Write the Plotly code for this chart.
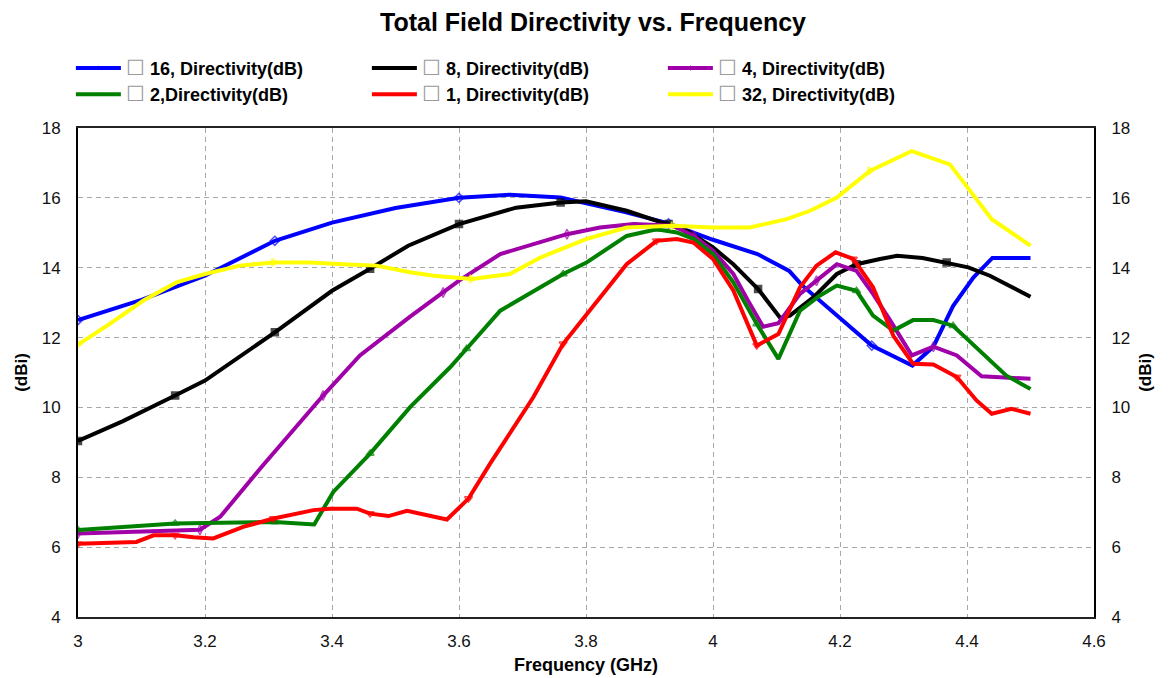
import plotly.graph_objects as go

# ---------------- data ----------------
f16 = [3.0, 3.05, 3.1, 3.2, 3.31, 3.4, 3.5, 3.6, 3.68, 3.76, 3.86, 3.93, 3.963, 4.0, 4.07,
       4.12, 4.14, 4.2, 4.25, 4.314, 4.347, 4.378, 4.41, 4.44, 4.5]
v16 = [12.5, 12.79, 13.08, 13.77, 14.77, 15.29, 15.71, 16.0, 16.09, 16.01, 15.6, 15.27, 15.06,
       14.8, 14.39, 13.91, 13.5, 12.55, 11.77, 11.2, 11.74, 12.9, 13.72, 14.28, 14.28]

f8 = [3.0, 3.07, 3.153, 3.2, 3.31, 3.4, 3.46, 3.52, 3.6, 3.69, 3.76, 3.8, 3.864, 3.93, 3.96,
      4.0, 4.032, 4.071, 4.106, 4.121, 4.158, 4.195, 4.226, 4.263, 4.29, 4.33, 4.368, 4.402,
      4.436, 4.473, 4.5]
v8 = [9.04, 9.6, 10.34, 10.77, 12.15, 13.34, 13.97, 14.63, 15.25, 15.72, 15.87, 15.9, 15.63,
      15.25, 15.05, 14.58, 14.1, 13.39, 12.56, 12.63, 13.15, 13.82, 14.1, 14.25, 14.34, 14.28,
      14.15, 14.01, 13.77, 13.44, 13.17]

f4 = [3.0, 3.1, 3.192, 3.224, 3.287, 3.386, 3.444, 3.523, 3.575, 3.6, 3.665, 3.77, 3.822,
      3.875, 3.937, 3.97, 4.0, 4.032, 4.055, 4.079, 4.103, 4.137, 4.163, 4.195, 4.226, 4.252,
      4.279, 4.313, 4.347, 4.384, 4.423, 4.462, 4.5]
v4 = [6.39, 6.45, 6.5, 6.87, 8.25, 10.34, 11.49, 12.6, 13.29, 13.63, 14.39, 14.96, 15.15,
      15.25, 15.2, 14.91, 14.49, 13.82, 13.06, 12.31, 12.41, 13.25, 13.63, 14.1, 13.91, 13.25,
      12.49, 11.49, 11.74, 11.49, 10.89, 10.85, 10.82]

f2 = [3.0, 3.153, 3.2, 3.26, 3.31, 3.36, 3.372, 3.402, 3.46, 3.523, 3.586, 3.612, 3.665,
      3.764, 3.8, 3.864, 3.911, 3.943, 3.97, 4.0, 4.032, 4.069, 4.103, 4.137, 4.168, 4.195,
      4.226, 4.252, 4.284, 4.315, 4.347, 4.378, 4.42, 4.462, 4.5]
v2 = [6.49, 6.68, 6.69, 6.71, 6.72, 6.66, 6.65, 7.58, 8.68, 10.01, 11.15, 11.68, 12.77,
      13.82, 14.14, 14.91, 15.1, 15.01, 14.82, 14.39, 13.58, 12.39, 11.39, 12.77, 13.2, 13.49,
      13.34, 12.63, 12.2, 12.5, 12.5, 12.34, 11.63, 10.91, 10.53]

f1 = [3.0, 3.092, 3.119, 3.153, 3.182, 3.213, 3.26, 3.308, 3.371, 3.397, 3.439, 3.46, 3.489,
      3.518, 3.581, 3.615, 3.649, 3.686, 3.717, 3.764, 3.8, 3.864, 3.911, 3.943, 3.969, 4.0,
      4.032, 4.069, 4.103, 4.137, 4.163, 4.193, 4.221, 4.252, 4.284, 4.315, 4.347, 4.384,
      4.415, 4.439, 4.47, 4.5]
v1 = [6.1, 6.15, 6.34, 6.34, 6.28, 6.25, 6.58, 6.82, 7.06, 7.1, 7.1, 6.96, 6.89, 7.04, 6.79,
      7.39, 8.39, 9.44, 10.29, 11.82, 12.63, 14.1, 14.77, 14.82, 14.72, 14.25, 13.35, 11.77,
      12.1, 13.44, 14.06, 14.44, 14.25, 13.44, 12.05, 11.25, 11.23, 10.87, 10.2, 9.82, 9.96, 9.82]

f32 = [3.0, 3.05, 3.103, 3.155, 3.2, 3.255, 3.308, 3.365, 3.418, 3.47, 3.523, 3.56, 3.62,
       3.68, 3.728, 3.8, 3.864, 3.937, 4.0, 4.058, 4.116, 4.153, 4.195, 4.247, 4.313, 4.373,
       4.405, 4.439, 4.5]
v32 = [11.8, 12.39, 13.06, 13.58, 13.82, 14.06, 14.15, 14.15, 14.1, 14.06, 13.87, 13.77, 13.68,
       13.82, 14.29, 14.82, 15.15, 15.2, 15.15, 15.15, 15.39, 15.63, 16.01, 16.77, 17.34, 16.96,
       16.2, 15.39, 14.63]

names = ["16, Directivity(dB)", "8, Directivity(dB)", "4, Directivity(dB)",
         "2,Directivity(dB)", "1, Directivity(dB)", "32, Directivity(dB)"]

# marker frequencies (sparse markers along each curve)
m16 = [3.0, 3.31, 3.63, 3.94, 4.25]
m8 = [3.0, 3.153, 3.31, 3.46, 3.61, 3.76, 3.92, 4.07, 4.22, 4.37]
m4 = [3.0, 3.19, 3.386, 3.575, 3.77, 3.96, 4.15, 4.34]
m2 = [3.0, 3.153, 3.31, 3.46, 3.612, 3.764, 3.911, 4.07, 4.22, 4.37]
m1 = [3.0, 3.153, 3.31, 3.46, 3.615, 3.764, 3.911, 4.07, 4.22, 4.38]
m32 = [3.0, 3.31, 3.62, 3.94, 4.25]

xticks = [3, 3.2, 3.4, 3.6, 3.8, 4, 4.2, 4.4, 4.6]
yticks = [4, 6, 8, 10, 12, 14, 16, 18]

series = [
    (f16, v16, m16, "#0000FF", "diamond-open"),
    (f8, v8, m8, "#000000", "square"),
    (f4, v4, m4, "#A000A8", "diamond-tall-open"),
    (f2, v2, m2, "#008000", "triangle-up-open"),
    (f1, v1, m1, "#FF0000", "triangle-down-open"),
    (f32, v32, m32, "#FFFF00", "triangle-right-open"),
]


def marker_sizes(fx, marks, size):
    sizes = [0] * len(fx)
    for m in marks:
        idx = min(range(len(fx)), key=lambda i: abs(fx[i] - m))
        sizes[idx] = size
    return sizes


FONT = "Liberation Sans, Arial, sans-serif"
fig = go.Figure()
for (fx, vy, mk, col, sym), nm in zip(series, names):
    fig.add_trace(go.Scatter(
        x=fx, y=vy, mode="lines+markers",
        name='<span style="color:#9a9a9a;font-weight:normal;font-size:21px">\u2610</span> ' + nm,
        line=dict(color=col, width=4),
        marker=dict(symbol=sym, size=marker_sizes(fx, mk, 7), color=col,
                    line=dict(color=col, width=1.5)),
    ))

# right-hand axis companion (empty)
fig.add_trace(go.Scatter(x=[None], y=[None], yaxis="y2", showlegend=False, hoverinfo="skip"))

grid = dict(showgrid=True, gridcolor="#A8A8A8", gridwidth=1, griddash="5px,4px")
# note: the page body adds an 8px offset, margins compensate for it
fig.update_layout(
    width=1170, height=678,
    paper_bgcolor="white", plot_bgcolor="white",
    margin=dict(l=70, r=84, t=120, b=69),
    font=dict(family=FONT, size=17, color="#111"),
    title=dict(text="<b>Total Field Directivity vs. Frequency</b>", x=0.5, xanchor="center",
               y=1 - 14 / 678, yanchor="middle", font=dict(size=25, color="#000")),
    showlegend=True,
    legend=dict(orientation="h", x=-0.007, xanchor="left", y=1.16, yanchor="top",
                entrywidth=236, entrywidthmode="pixels",
                font=dict(size=18, color="#000", weight="bold"),
                bgcolor="rgba(0,0,0,0)", itemwidth=45, tracegroupgap=0),
    xaxis=dict(range=[3, 4.6], tickvals=xticks, ticks="", ticklabelstandoff=8,
               showline=True, linecolor="#222", linewidth=2, mirror=True, automargin=False,
               zeroline=False, title=dict(text="<b>Frequency (GHz)</b>", standoff=8,
                                          font=dict(size=18, color="#000")),
               **grid),
    yaxis=dict(range=[4, 18], tickvals=yticks, ticks="", ticklabelstandoff=12, automargin=False,
               showline=True, linecolor="#000", linewidth=2, zeroline=False,
               title=dict(text="<b>(dBi)</b>", standoff=10, font=dict(size=17, color="#000")),
               **grid),
    yaxis2=dict(range=[4, 18], tickvals=yticks, ticks="", ticklabelstandoff=12,
                overlaying="y", side="right", showgrid=False, zeroline=False, automargin=False,
                showline=True, linecolor="#000", linewidth=2,
                title=dict(text="<b>(dBi)</b>", standoff=10, font=dict(size=17, color="#000"))),
)

fig.write_html("out.html")
